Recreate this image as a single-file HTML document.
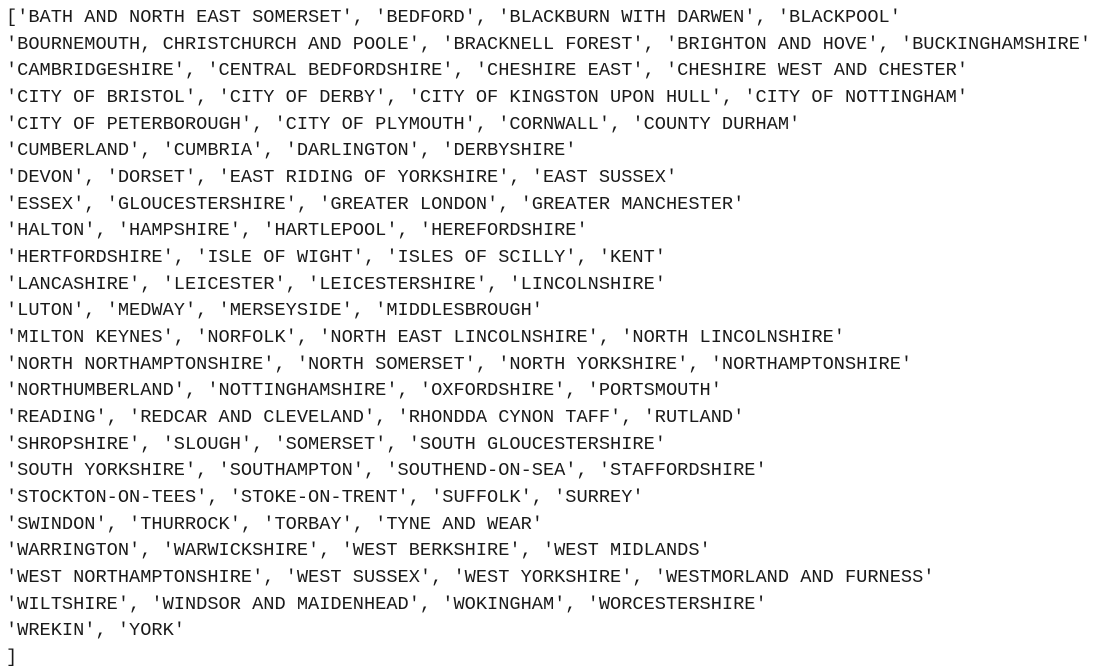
<!DOCTYPE html>
<html><head><meta charset="utf-8"><style>
html,body{margin:0;padding:0;background:#fff;width:1100px;height:669px;overflow:hidden}
pre{margin:0;position:absolute;left:6px;top:4px;font-family:"Liberation Mono",monospace;font-size:18.65px;line-height:26.67px;color:#1a1a1a;white-space:pre}
</style></head><body><pre>['BATH AND NORTH EAST SOMERSET', 'BEDFORD', 'BLACKBURN WITH DARWEN', 'BLACKPOOL'
'BOURNEMOUTH, CHRISTCHURCH AND POOLE', 'BRACKNELL FOREST', 'BRIGHTON AND HOVE', 'BUCKINGHAMSHIRE'
'CAMBRIDGESHIRE', 'CENTRAL BEDFORDSHIRE', 'CHESHIRE EAST', 'CHESHIRE WEST AND CHESTER'
'CITY OF BRISTOL', 'CITY OF DERBY', 'CITY OF KINGSTON UPON HULL', 'CITY OF NOTTINGHAM'
'CITY OF PETERBOROUGH', 'CITY OF PLYMOUTH', 'CORNWALL', 'COUNTY DURHAM'
'CUMBERLAND', 'CUMBRIA', 'DARLINGTON', 'DERBYSHIRE'
'DEVON', 'DORSET', 'EAST RIDING OF YORKSHIRE', 'EAST SUSSEX'
'ESSEX', 'GLOUCESTERSHIRE', 'GREATER LONDON', 'GREATER MANCHESTER'
'HALTON', 'HAMPSHIRE', 'HARTLEPOOL', 'HEREFORDSHIRE'
'HERTFORDSHIRE', 'ISLE OF WIGHT', 'ISLES OF SCILLY', 'KENT'
'LANCASHIRE', 'LEICESTER', 'LEICESTERSHIRE', 'LINCOLNSHIRE'
'LUTON', 'MEDWAY', 'MERSEYSIDE', 'MIDDLESBROUGH'
'MILTON KEYNES', 'NORFOLK', 'NORTH EAST LINCOLNSHIRE', 'NORTH LINCOLNSHIRE'
'NORTH NORTHAMPTONSHIRE', 'NORTH SOMERSET', 'NORTH YORKSHIRE', 'NORTHAMPTONSHIRE'
'NORTHUMBERLAND', 'NOTTINGHAMSHIRE', 'OXFORDSHIRE', 'PORTSMOUTH'
'READING', 'REDCAR AND CLEVELAND', 'RHONDDA CYNON TAFF', 'RUTLAND'
'SHROPSHIRE', 'SLOUGH', 'SOMERSET', 'SOUTH GLOUCESTERSHIRE'
'SOUTH YORKSHIRE', 'SOUTHAMPTON', 'SOUTHEND-ON-SEA', 'STAFFORDSHIRE'
'STOCKTON-ON-TEES', 'STOKE-ON-TRENT', 'SUFFOLK', 'SURREY'
'SWINDON', 'THURROCK', 'TORBAY', 'TYNE AND WEAR'
'WARRINGTON', 'WARWICKSHIRE', 'WEST BERKSHIRE', 'WEST MIDLANDS'
'WEST NORTHAMPTONSHIRE', 'WEST SUSSEX', 'WEST YORKSHIRE', 'WESTMORLAND AND FURNESS'
'WILTSHIRE', 'WINDSOR AND MAIDENHEAD', 'WOKINGHAM', 'WORCESTERSHIRE'
'WREKIN', 'YORK'
]</pre></body></html>
